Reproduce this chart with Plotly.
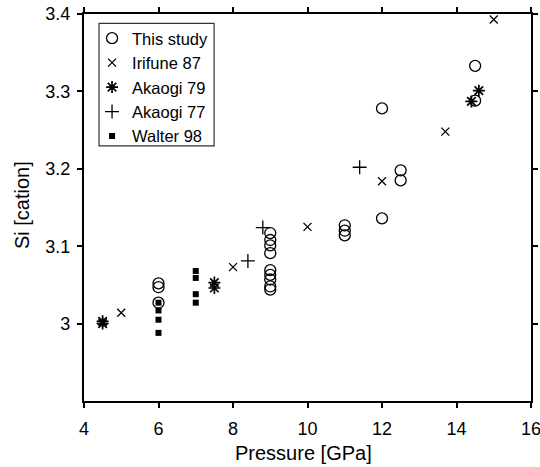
import plotly.graph_objects as go

# This study
this_p = [6, 6, 6, 9, 9, 9, 9, 9, 9, 9, 9, 9, 11, 11, 11, 12, 12, 12.5, 12.5, 14.5, 14.5]
this_si = [3.052, 3.047, 3.027, 3.117, 3.108, 3.101, 3.091, 3.069, 3.063, 3.057, 3.048, 3.044,
           3.127, 3.120, 3.114, 3.278, 3.136, 3.198, 3.185, 3.333, 3.288]

# Irifune 87
iri_p = [5, 8, 10, 12, 13.7, 15]
iri_si = [3.014, 3.073, 3.125, 3.184, 3.248, 3.393]

# Akaogi 79
ak79_p = [4.5, 4.5, 7.5, 7.5, 14.4, 14.6]
ak79_si = [3.000, 3.003, 3.053, 3.046, 3.287, 3.301]

# Akaogi 77
ak77_p = [8.4, 8.8, 11.4]
ak77_si = [3.081, 3.124, 3.202]

# Walter 98
wal_p = [6, 6, 6, 6, 7, 7, 7, 7]
wal_si = [3.027, 3.017, 3.005, 2.988, 3.068, 3.059, 3.038, 3.027]

x_ticks = [4, 6, 8, 10, 12, 14, 16]
y_ticks = [3, 3.1, 3.2, 3.3, 3.4]
y_labels = ["3", "3.1", "3.2", "3.3", "3.4"]

FONT = "Liberation Sans, Arial, Helvetica, sans-serif"

fig = go.Figure()
fig.add_trace(go.Scatter(x=this_p, y=this_si, mode="markers", name="This study", legendgroup="a",
                         marker=dict(symbol="circle-open", size=11, color="black", line=dict(width=1.3))))
fig.add_trace(go.Scatter(x=iri_p, y=iri_si, mode="markers", name="Irifune 87", legendgroup="b",
                         marker=dict(symbol="x-thin-open", size=8, color="black", line=dict(width=1.3))))
fig.add_trace(go.Scatter(x=ak79_p, y=ak79_si, mode="markers", name="Akaogi 79", legendgroup="c",
                         marker=dict(symbol="asterisk-open", size=10, color="black", line=dict(width=1.7))))
fig.add_trace(go.Scatter(x=ak77_p, y=ak77_si, mode="markers", name="Akaogi 77", legendgroup="d",
                         marker=dict(symbol="cross-thin-open", size=10, color="black", line=dict(width=1.3))))
fig.add_trace(go.Scatter(x=wal_p, y=wal_si, mode="markers", name="Walter 98", legendgroup="e",
                         marker=dict(symbol="square", size=6, color="black")))

axis_common = dict(showline=True, linecolor="black", linewidth=2.2, mirror="ticks",
                   ticks="outside", ticklen=5, tickwidth=1.5, tickcolor="black",
                   showgrid=False, zeroline=False, automargin=False,
                   ticklabeloverflow="allow",
                   tickfont=dict(family=FONT, size=18, color="black"))

fig.update_layout(
    width=540, height=467,
    margin=dict(l=84, r=9, t=14, b=66),
    paper_bgcolor="white", plot_bgcolor="white",
    font=dict(family=FONT, size=16, color="black"),
    xaxis=dict(range=[4, 16], tickvals=x_ticks, ticklabelstandoff=5, **axis_common),
    yaxis=dict(range=[2.9, 3.4], tickvals=y_ticks, ticktext=y_labels, ticklabelstandoff=3, **axis_common),
    legend=dict(x=0.018, y=0.982, xanchor="left", yanchor="top",
                borderwidth=0, bgcolor="rgba(0,0,0,0)",
                font=dict(family=FONT, size=16.5, color="black"), traceorder="grouped", tracegroupgap=0,
                itemwidth=30),
    showlegend=True,
    shapes=[dict(type="rect", xref="paper", yref="paper", x0=0.0336, x1=0.291, y0=0.659, y1=0.976,
                 line=dict(color="#333", width=1.2), fillcolor="rgba(0,0,0,0)", layer="above")],
    annotations=[
        dict(text="Pressure [GPa]", xref="paper", yref="paper", x=0.49, y=-0.134,
             xanchor="center", yanchor="middle", showarrow=False,
             font=dict(family=FONT, size=20, color="black")),
        dict(text="Si [cation]", xref="paper", yref="paper", x=-0.139, y=0.506, textangle=-90,
             xanchor="center", yanchor="middle", showarrow=False,
             font=dict(family=FONT, size=20, color="black")),
    ],
)

fig.write_html("out.html", config={"displayModeBar": False},
               post_script="document.body.style.margin='0';document.body.style.overflow='hidden';")
